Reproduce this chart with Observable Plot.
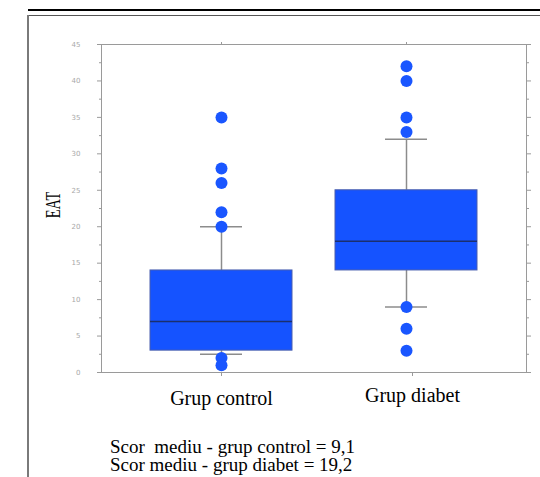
<!DOCTYPE html>
<html>
<head>
<meta charset="utf-8">
<script src="https://cdn.jsdelivr.net/npm/d3@7"></script>
<script src="https://cdn.jsdelivr.net/npm/@observablehq/plot@0.6"></script>
<style>
  body { margin: 0; background: #fff; }
  #wrap { position: relative; width: 540px; height: 477px; overflow: hidden; background: #fff;
          font-family: "Liberation Serif", "Times New Roman", serif; color: #000; }
  #chart { position: absolute; left: 0; top: 0; }
  .thick { position: absolute; left: 28px; top: 9px; width: 512px; height: 2px; background: #000; }
  .thinH { position: absolute; left: 28px; top: 15px; width: 512px; height: 1px; background: #555; }
  .thinV { position: absolute; left: 27px; top: 15px; width: 2px; height: 462px; background: #7a7a7a; }
  .ylab { position: absolute; left: 53px; top: 205px; font-size: 20px; line-height: 20px; white-space: nowrap;
          transform: translate(-50%, -50%) rotate(-90deg) scaleX(0.72); }
  .note { position: absolute; left: 110px; top: 438px; font-size: 19px; line-height: 17.5px; white-space: pre; }
</style>
</head>
<body>
<div id="wrap">
  <div class="thick"></div>
  <div class="thinH"></div>
  <div class="thinV"></div>
  <div id="chart"></div>
  <div class="ylab">EAT</div>
  <div class="note">Scor  mediu - grup control = 9,1
Scor mediu - grup diabet = 19,2</div>
</div>
<script>
// ---- data ----
const groups = ["Grup control", "Grup diabet"];
const q1 = [3, 14];
const median = [7, 18];
const q3 = [14, 25];
const whiskerLow = [2.5, 9];
const whiskerHigh = [20, 32];
const outliersControl = [35, 28, 26, 22, 20, 2, 1];
const outliersDiabet = [42, 40, 35, 33, 9, 6, 3];
const yTicks = [0, 5, 10, 15, 20, 25, 30, 35, 40, 45];
const yMinorTicks = [2.5, 7.5, 12.5, 17.5, 22.5, 27.5, 32.5, 37.5, 42.5];

const stats = groups.map((g, i) => ({
  group: g, q1: q1[i], median: median[i], q3: q3[i], lo: whiskerLow[i], hi: whiskerHigh[i]
}));
const outliers = [
  ...outliersControl.map(v => ({group: groups[0], value: v})),
  ...outliersDiabet.map(v => ({group: groups[1], value: v}))
];

const axisGray = "#9a9a9a";
const whiskerGray = "#8c8c8c";
const blank = () => "";

const chart = Plot.plot({
  width: 540,
  height: 420,
  marginLeft: 101,
  marginRight: 14,
  marginTop: 44,
  marginBottom: 48,
  style: {background: "transparent"},
  x: {domain: groups, paddingInner: 0.23, paddingOuter: 0.26, axis: null},
  y: {domain: [0, 45], axis: null},
  marks: [
    Plot.frame({stroke: axisGray}),
    Plot.axisY({ticks: yTicks, anchor: "left", tickSize: 4, tickPadding: 17, fontSize: 7, label: null,
                fontFamily: "DejaVu Sans", stroke: axisGray, fill: "#a8a8a8"}),
    Plot.axisY({ticks: yMinorTicks, anchor: "left", tickSize: 2, tickFormat: blank, label: null, stroke: axisGray}),
    Plot.axisY({ticks: yTicks, anchor: "right", tickSize: 4, tickFormat: blank, label: null, stroke: axisGray}),
    Plot.axisY({ticks: yMinorTicks, anchor: "right", tickSize: 2, tickFormat: blank, label: null, stroke: axisGray}),
    Plot.axisX({ticks: [groups[0]], anchor: "bottom", tickSize: 4, tickPadding: 14, fontSize: 20, label: null,
                fontFamily: "Liberation Serif", stroke: axisGray, fill: "#000"}),
    Plot.axisX({ticks: [groups[1]], anchor: "bottom", tickSize: 4, tickPadding: 11, dx: 6, fontSize: 20, label: null,
                fontFamily: "Liberation Serif", stroke: axisGray, fill: "#000"}),
    Plot.axisX({anchor: "top", tickSize: 3, tickFormat: blank, label: null, stroke: axisGray}),
    Plot.ruleX(stats, {x: "group", y1: "q3", y2: "hi", stroke: whiskerGray, strokeWidth: 1.5}),
    Plot.ruleX(stats, {x: "group", y1: "lo", y2: "q1", stroke: whiskerGray, strokeWidth: 1.5}),
    Plot.tickY(stats, {x: "group", y: "hi", stroke: whiskerGray, strokeWidth: 1.5, inset: 50}),
    Plot.tickY(stats, {x: "group", y: "lo", stroke: whiskerGray, strokeWidth: 1.5, inset: 50}),
    Plot.barY(stats, {x: "group", y1: "q1", y2: "q3", fill: "#1553ff", stroke: "#4a5fae", strokeWidth: 1}),
    Plot.tickY(stats, {x: "group", y: "median", stroke: "#1b2f6e", strokeWidth: 1.5}),
    Plot.dot(outliers, {x: "group", y: "value", r: 6, fill: "#1a56ff", stroke: "none"})
  ]
});
document.getElementById("chart").appendChild(chart);
</script>
</body>
</html>
